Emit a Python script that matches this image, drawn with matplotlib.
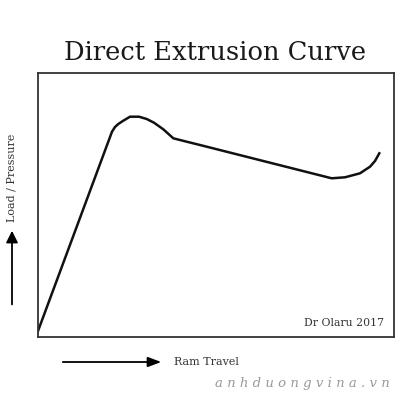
import matplotlib
matplotlib.use("Agg")
import matplotlib.pyplot as plt

# ram travel (arbitrary units) vs load / pressure
ram_travel = [0, 74, 77, 80.3, 85.3, 92, 101, 108.7, 116, 125.3, 135.3, 148.7, 162,
              293.7, 307, 322, 332, 337, 341.3]
load = [6, 205.3, 210, 213, 216.3, 220.3, 220.3, 218, 214.3, 207.7, 198.7, 195.3, 192,
        158.7, 159.7, 163.7, 170.3, 176, 183.7]

title = "Direct Extrusion Curve"
ylabel = "Load / Pressure"
xlabel = "Ram Travel"
credit = "Dr Olaru 2017"
watermark = "a n h d u o n g v i n a . v n"

serif = ["DejaVu Serif"]

fig = plt.figure(figsize=(4, 4), dpi=100)
ax = fig.add_axes([0.095, 0.1575, 0.89, 0.66])
ax.plot(ram_travel, load, color="#111111", linewidth=1.8, solid_joinstyle="round")
ax.set_xlim(0, 356)
ax.set_ylim(0, 264)
ax.set_xticks([])
ax.set_yticks([])
for s in ax.spines.values():
    s.set_linewidth(1.3)
    s.set_color("#333333")

ax.text(0.972, 0.035, credit, transform=ax.transAxes, ha="right", va="bottom",
        fontsize=7.8, family=serif, color="#333333")

fig.text(0.538, 0.87, title, ha="center", va="center", fontsize=18.5, family=serif,
         color="#1a1a1a")

# axis labels with arrows
fig.text(0.03, 0.555, ylabel, rotation=90, ha="center", va="center", fontsize=8,
         family=serif, color="#333333")
fig.add_artist(matplotlib.patches.FancyArrowPatch(
    (0.03, 0.232), (0.03, 0.43), transform=fig.transFigure,
    arrowstyle="-|>,head_length=7,head_width=3.5", color="black", linewidth=1.3))
fig.text(0.435, 0.095, xlabel, ha="left", va="center", fontsize=8,
         family=serif, color="#333333")
fig.add_artist(matplotlib.patches.FancyArrowPatch(
    (0.15, 0.095), (0.41, 0.095), transform=fig.transFigure,
    arrowstyle="-|>,head_length=8,head_width=3", color="black", linewidth=1.3))

fig.text(0.975, 0.042, watermark, ha="right", va="center", fontsize=9.5,
         family=serif, style="italic", color="#9a9a9a")

fig.savefig("out.png", dpi=100, facecolor="white")
